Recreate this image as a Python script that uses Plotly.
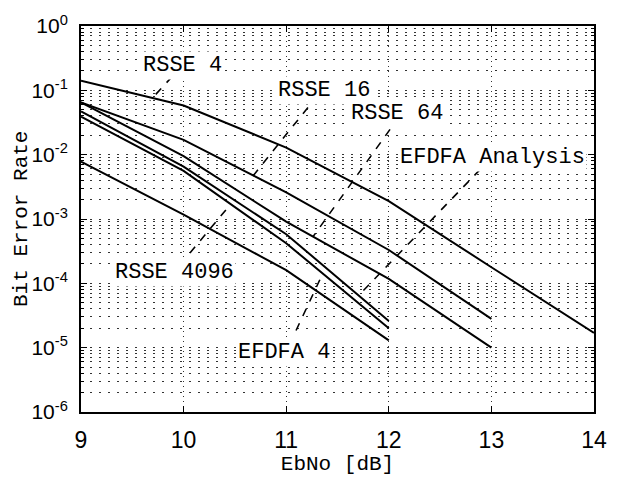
import numpy as np
import plotly.graph_objects as go

# ---- data ----
ebno_6 = [9, 10, 11, 12, 13, 14]
ebno_5 = [9, 10, 11, 12, 13]
ebno_4 = [9, 10, 11, 12]

ber_rsse4 = [0.141, 0.058, 0.0129, 0.0019, 1.78e-4, 1.7e-5]
ber_rsse16 = [0.065, 0.017, 0.0026, 3.3e-4, 2.8e-5]
ber_rsse64 = [0.065, 0.0095, 9.1e-4, 1.17e-4, 1.0e-5]
ber_efdfa_an = [0.047, 0.0065, 5.8e-4, 2.6e-5]
ber_rsse4096 = [0.039, 0.0056, 4.2e-4, 2.0e-5]
ber_efdfa4 = [0.0078, 1.17e-3, 1.6e-4, 1.3e-5]

# label texts and positions (EbNo, BER)
label_text = ["RSSE 4", "RSSE 16", "RSSE 64", "EFDFA Analysis", "RSSE 4096", "EFDFA 4"]
label_x = [9.994, 11.368, 12.08, 13.006, 9.916, 10.979]
label_y = [0.245, 0.1007, 0.0443, 9.14e-3, 1.5e-4, 8.4e-6]

# dashed leader lines (start -> end), EbNo and BER
leader_x0 = [9.887, 11.212, 12.012, 12.889, 10.062, 11.096]
leader_y0 = [0.1626, 0.0543, 0.0247, 5.86e-3, 2.97e-4, 1.85e-5]
leader_x1 = [9.672, 10.667, 11.261, 11.719, 10.452, 11.359]
leader_y1 = [0.069, 0.00446, 5.3e-4, 6.8e-5, 1.65e-3, 1.45e-4]

y_tickvals = [1e-6, 1e-5, 1e-4, 1e-3, 1e-2, 1e-1, 1]
y_ticktext = ["10<sup>-6</sup>", "10<sup>-5</sup>", "10<sup>-4</sup>", "10<sup>-3</sup>",
              "10<sup>-2</sup>", "10<sup>-1</sup>", "10<sup>0</sup>"]
x_tickvals = [9, 10, 11, 12, 13, 14]
minor_y = [m * d for d in [1e-6, 1e-5, 1e-4, 1e-3, 1e-2, 1e-1] for m in range(2, 10)]

fig = go.Figure()
curves = [
    (ebno_6, ber_rsse4, "RSSE 4"),
    (ebno_5, ber_rsse16, "RSSE 16"),
    (ebno_5, ber_rsse64, "RSSE 64"),
    (ebno_4, ber_efdfa_an, "EFDFA Analysis"),
    (ebno_4, ber_rsse4096, "RSSE 4096"),
    (ebno_4, ber_efdfa4, "EFDFA 4"),
]
for xs, ys, nm in curves:
    fig.add_trace(go.Scatter(x=xs, y=ys, mode="lines", name=nm,
                             line=dict(color="black", width=2), showlegend=False))

for i in range(len(leader_x0)):
    fig.add_trace(go.Scatter(x=[leader_x0[i], leader_x1[i]], y=[leader_y0[i], leader_y1[i]],
                             mode="lines", showlegend=False, hoverinfo="skip",
                             line=dict(color="black", width=1.6, dash="8px,8px")))

for t, x, y in zip(label_text, label_x, label_y):
    fig.add_annotation(x=x, y=np.log10(y), text=t, showarrow=False,
                       font=dict(family="Liberation Mono", size=22, color="black"),
                       bgcolor="white", borderpad=1, xanchor="center", yanchor="middle")

# y-axis title placed as rotated text left of the tick labels
fig.add_annotation(xref="paper", yref="paper", x=-0.117, y=0.5, text="Bit Error Rate",
                   textangle=-90, showarrow=False, xanchor="center", yanchor="middle",
                   font=dict(family="Liberation Mono", size=21, color="black"))

grid_col = "#333"
fig.update_layout(
    width=623, height=481,
    margin=dict(l=81, r=29, t=20, b=58),
    plot_bgcolor="white", paper_bgcolor="white",
    xaxis=dict(
        range=[9, 14], tickvals=x_tickvals, ticks="inside", ticklen=6, tickcolor="black",
        showgrid=True, gridcolor=grid_col, gridwidth=1, griddash="1px,4px",
        showline=True, linecolor="black", linewidth=2, mirror="ticks",
        tickfont=dict(family="Liberation Sans", size=23, color="black"),
        ticklabelstandoff=6,
        title=dict(text="EbNo [dB]", standoff=2,
                   font=dict(family="Liberation Mono", size=21, color="black")),
        zeroline=False,
    ),
    yaxis=dict(
        type="log", range=[-6, 0], tickvals=y_tickvals, ticktext=y_ticktext,
        ticks="inside", ticklen=6, tickcolor="black",
        showgrid=True, gridcolor=grid_col, gridwidth=1, griddash="2px,7px",
        showline=True, linecolor="black", linewidth=2, mirror="ticks",
        tickfont=dict(family="Liberation Sans", size=21, color="black"),
        ticklabelstandoff=7,
        minor=dict(tickmode="array", tickvals=minor_y, ticks="inside", ticklen=3,
                   tickcolor="black", showgrid=True, gridcolor=grid_col, gridwidth=1,
                   griddash="2px,7px"),
        zeroline=False,
    ),
)

fig.write_html("out.html")
